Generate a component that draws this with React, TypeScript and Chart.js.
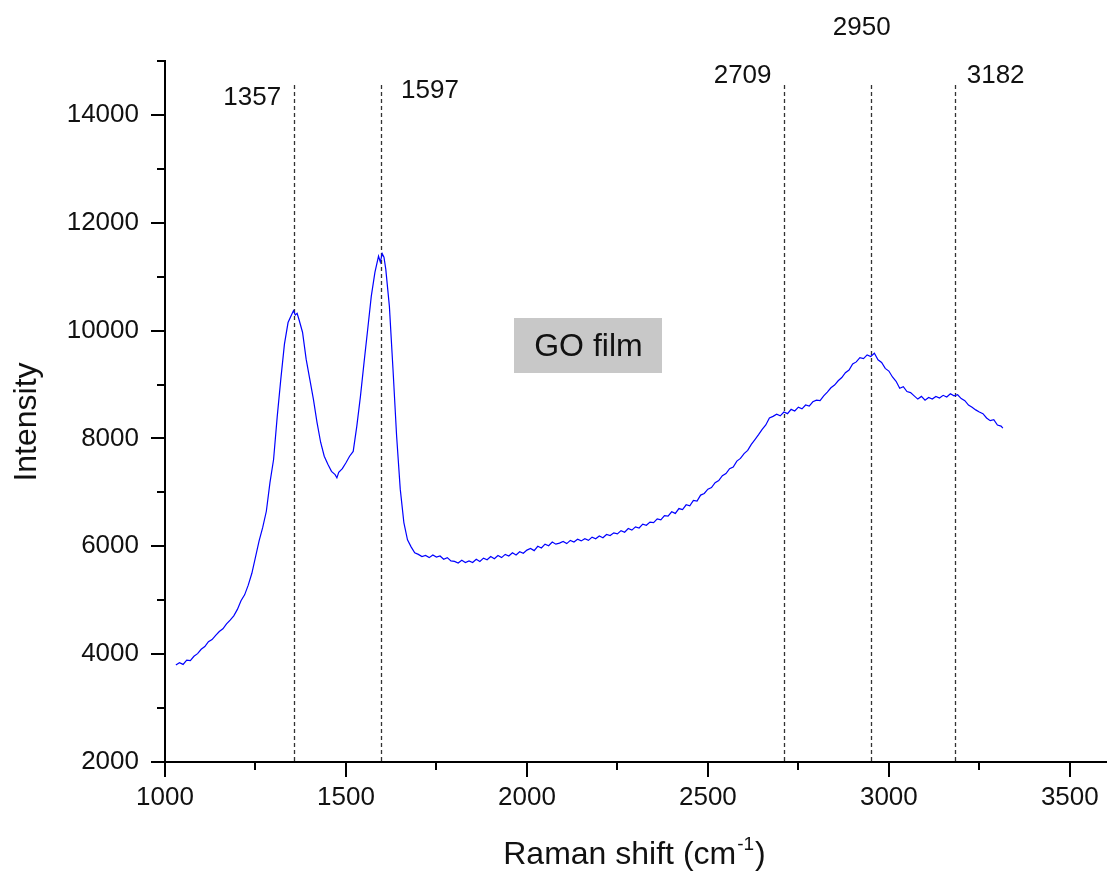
import { useEffect, useRef } from 'react';
import { Chart, registerables } from 'chart.js';

Chart.register(...registerables);

// Raman spectrum of GO film: [Raman shift (cm-1), Intensity]
const spectrum: [number, number][] = [
  [1030, 3800], [1040, 3840], [1050, 3810], [1060, 3890], [1070, 3880], [1080, 3960], [1090, 4010],
  [1100, 4090], [1110, 4140], [1120, 4230], [1130, 4270], [1140, 4350], [1150, 4420], [1160, 4470],
  [1170, 4560], [1180, 4630], [1190, 4710], [1200, 4830], [1210, 4990], [1220, 5100], [1230, 5280],
  [1240, 5500], [1250, 5800], [1260, 6100], [1270, 6350], [1280, 6650], [1290, 7180], [1300, 7610],
  [1310, 8400], [1320, 9100], [1330, 9750], [1340, 10150], [1350, 10300], [1355, 10370], [1360, 10290],
  [1365, 10320], [1370, 10210], [1380, 9970], [1390, 9470], [1400, 9100], [1410, 8730], [1420, 8300],
  [1430, 7930], [1440, 7670], [1450, 7520], [1460, 7390], [1470, 7330], [1475, 7270], [1480, 7370],
  [1490, 7440], [1500, 7550], [1510, 7670], [1520, 7760], [1530, 8230], [1540, 8780], [1550, 9410],
  [1560, 10020], [1570, 10640], [1580, 11080], [1590, 11380], [1595, 11270], [1600, 11430], [1605, 11360],
  [1610, 11140], [1620, 10450], [1630, 9280], [1640, 8040], [1650, 7060], [1660, 6440], [1670, 6120],
  [1680, 5990], [1690, 5880], [1700, 5850], [1710, 5810], [1720, 5830], [1730, 5790], [1740, 5840],
  [1750, 5800], [1760, 5820], [1770, 5760], [1780, 5790], [1790, 5730], [1800, 5720], [1810, 5690],
  [1820, 5740], [1830, 5700], [1840, 5730], [1850, 5700], [1860, 5760], [1870, 5720], [1880, 5780],
  [1890, 5750], [1900, 5810], [1910, 5770], [1920, 5830], [1930, 5790], [1940, 5850], [1950, 5820],
  [1960, 5880], [1970, 5840], [1980, 5900], [1990, 5870], [2000, 5930], [2010, 5960], [2020, 5920],
  [2030, 6000], [2040, 5970], [2050, 6040], [2060, 6010], [2070, 6080], [2080, 6040], [2090, 6060],
  [2100, 6090], [2110, 6050], [2120, 6110], [2130, 6080], [2140, 6130], [2150, 6100], [2160, 6140],
  [2170, 6110], [2180, 6170], [2190, 6140], [2200, 6190], [2210, 6160], [2220, 6220], [2230, 6200],
  [2240, 6250], [2250, 6230], [2260, 6290], [2270, 6260], [2280, 6330], [2290, 6300], [2300, 6360],
  [2310, 6340], [2320, 6410], [2330, 6390], [2340, 6450], [2350, 6440], [2360, 6510], [2370, 6490],
  [2380, 6570], [2390, 6560], [2400, 6640], [2410, 6610], [2420, 6700], [2430, 6680], [2440, 6770],
  [2450, 6750], [2460, 6850], [2470, 6840], [2480, 6950], [2490, 6980], [2500, 7060], [2510, 7090],
  [2520, 7180], [2530, 7220], [2540, 7310], [2550, 7350], [2560, 7440], [2570, 7470], [2580, 7580],
  [2590, 7630], [2600, 7720], [2610, 7780], [2620, 7890], [2630, 7980], [2640, 8070], [2650, 8170],
  [2660, 8250], [2670, 8380], [2680, 8410], [2690, 8450], [2700, 8420], [2710, 8490], [2720, 8460],
  [2730, 8540], [2740, 8510], [2750, 8580], [2760, 8550], [2770, 8620], [2780, 8600], [2790, 8680],
  [2800, 8710], [2810, 8700], [2820, 8790], [2830, 8860], [2840, 8940], [2850, 8990], [2860, 9070],
  [2870, 9130], [2880, 9220], [2890, 9270], [2900, 9380], [2910, 9420], [2920, 9500], [2930, 9480],
  [2940, 9550], [2950, 9520], [2960, 9580], [2970, 9460], [2980, 9410], [2990, 9300], [3000, 9250],
  [3010, 9140], [3020, 9060], [3030, 8930], [3040, 8960], [3050, 8870], [3060, 8850], [3070, 8790],
  [3080, 8730], [3090, 8780], [3100, 8710], [3110, 8760], [3120, 8730], [3130, 8780], [3140, 8750],
  [3150, 8800], [3160, 8770], [3170, 8830], [3180, 8790], [3190, 8810], [3200, 8740], [3210, 8700],
  [3220, 8620], [3230, 8580], [3240, 8530], [3250, 8490], [3260, 8460], [3270, 8380], [3280, 8330],
  [3290, 8350], [3300, 8250], [3310, 8230], [3315, 8190],
];

const peakPositions = [1357, 1597, 2709, 2950, 3182];
const peakLabels = ['1357', '1597', '2709', '2950', '3182'];
const peakLineTop = 14560;

const xMajorTicks = [1000, 1500, 2000, 2500, 3000, 3500];
const xMinorTicks = [1250, 1750, 2250, 2750, 3250];
const yMajorTicks = [2000, 4000, 6000, 8000, 10000, 12000, 14000];
const yMinorTicks = [3000, 5000, 7000, 9000, 11000, 13000, 15000];

const sampleName = 'GO film';
const sampleAnchor = { x: 2170, y: 9720 };

const xTitleMain = 'Raman shift (cm';
const xTitleSup = '-1';
const xTitleEnd = ')';
const yTitle = 'Intensity';

// layout / style (pixels)
const FONT = '"Liberation Sans", Arial, Helvetica, sans-serif';
const TEXT = '#111111';
const peakLabelLayout = [
  { align: 'right', dx: -13, baseline: 105 },
  { align: 'left', dx: 20, baseline: 98 },
  { align: 'right', dx: -12, baseline: 83 },
  { align: 'center', dx: -9, baseline: 35 },
  { align: 'left', dx: 12, baseline: 83 },
];

const overlayPlugin = {
  id: 'overlay',
  beforeDatasetsDraw(chart: any) {
    const { ctx, scales } = chart;
    const x = scales.x, y = scales.y;
    ctx.save();
    ctx.setLineDash([4, 3]);
    ctx.strokeStyle = '#333333';
    ctx.lineWidth = 1.3;
    const yb = y.getPixelForValue(2000);
    const yt = y.getPixelForValue(peakLineTop);
    peakPositions.forEach((p) => {
      const px = Math.round(x.getPixelForValue(p)) + 0.5;
      ctx.beginPath();
      ctx.moveTo(px, yb - 1);
      ctx.lineTo(px, yt);
      ctx.stroke();
    });
    ctx.restore();
  },
  afterDraw(chart: any) {
    const { ctx, scales, chartArea } = chart;
    const x = scales.x, y = scales.y;
    ctx.save();
    // minor ticks
    ctx.strokeStyle = '#000';
    ctx.lineWidth = 2;
    ctx.setLineDash([]);
    xMinorTicks.forEach((v) => {
      const px = Math.round(x.getPixelForValue(v));
      ctx.beginPath();
      ctx.moveTo(px, chartArea.bottom);
      ctx.lineTo(px, chartArea.bottom + 8);
      ctx.stroke();
    });
    yMinorTicks.forEach((v) => {
      const py = Math.round(y.getPixelForValue(v));
      ctx.beginPath();
      ctx.moveTo(chartArea.left, py);
      ctx.lineTo(chartArea.left - 8, py);
      ctx.stroke();
    });

    // peak labels
    ctx.fillStyle = TEXT;
    ctx.font = `26px ${FONT}`;
    ctx.textBaseline = 'alphabetic';
    peakPositions.forEach((p, i) => {
      const l = peakLabelLayout[i];
      ctx.textAlign = l.align as CanvasTextAlign;
      ctx.fillText(peakLabels[i], x.getPixelForValue(p) + l.dx, l.baseline);
    });

    // sample box
    const cx = x.getPixelForValue(sampleAnchor.x);
    const cy = y.getPixelForValue(sampleAnchor.y);
    const bw = 148, bh = 55;
    ctx.fillStyle = '#c8c8c8';
    ctx.fillRect(Math.round(cx - bw / 2), Math.round(cy - bh / 2), bw, bh);
    ctx.fillStyle = TEXT;
    ctx.font = `32px ${FONT}`;
    ctx.textAlign = 'center';
    ctx.textBaseline = 'middle';
    ctx.fillText(sampleName, cx, cy + 1);

    // x title with superscript
    ctx.textBaseline = 'alphabetic';
    ctx.textAlign = 'left';
    const mainFont = `32px ${FONT}`;
    const supFont = `19px ${FONT}`;
    ctx.font = mainFont;
    const w1 = ctx.measureText(xTitleMain).width;
    const w3 = ctx.measureText(xTitleEnd).width;
    ctx.font = supFont;
    const w2 = ctx.measureText(xTitleSup).width;
    const total = w1 + w2 + w3 + 2;
    const xCenter = (chartArea.left + chartArea.right) / 2 - 1;
    let tx = xCenter - total / 2;
    const base = 864;
    ctx.font = mainFont;
    ctx.fillText(xTitleMain, tx, base);
    tx += w1 + 1;
    ctx.font = supFont;
    ctx.fillText(xTitleSup, tx, base - 14);
    tx += w2 + 1;
    ctx.font = mainFont;
    ctx.fillText(xTitleEnd, tx, base);

    // y title
    ctx.translate(36, 422);
    ctx.rotate(-Math.PI / 2);
    ctx.textAlign = 'center';
    ctx.fillText(yTitle, 0, 0);
    ctx.restore();
  },
};

export default function App() {
  const canvasRef = useRef<HTMLCanvasElement | null>(null);

  useEffect(() => {
    if (!canvasRef.current) return;
    const chart = new Chart(canvasRef.current, {
      type: 'line',
      data: {
        datasets: [
          {
            label: sampleName,
            data: spectrum.map(([sx, sy]) => ({ x: sx, y: sy })),
            borderColor: '#0000ff',
            borderWidth: 1.2,
            pointRadius: 0,
            tension: 0,
            fill: false,
          },
        ],
      },
      options: {
        responsive: false,
        animation: false,
        events: [],
        layout: { padding: { left: 0, top: 61, right: 1, bottom: 0 } },
        plugins: {
          legend: { display: false },
          tooltip: { enabled: false },
          title: { display: false },
        },
        scales: {
          x: {
            type: 'linear',
            min: 1000,
            max: 3600,
            afterBuildTicks: (s: any) => {
              s.ticks = xMajorTicks.map((v) => ({ value: v }));
            },
            afterFit: (s: any) => {
              s.height = 110;
            },
            grid: {
              display: true,
              drawOnChartArea: false,
              drawTicks: true,
              tickLength: 15,
              color: '#000',
              lineWidth: 2,
            },
            border: { display: true, color: '#000', width: 2 },
            ticks: {
              color: TEXT,
              font: { size: 26, family: FONT },
              padding: 5,
              maxRotation: 0,
              autoSkip: false,
              callback: (v: any) => String(v),
            },
          },
          y: {
            type: 'linear',
            min: 2000,
            max: 15000,
            afterBuildTicks: (s: any) => {
              s.ticks = yMajorTicks.map((v) => ({ value: v }));
            },
            afterFit: (s: any) => {
              s.width = 165;
            },
            grid: {
              display: true,
              drawOnChartArea: false,
              drawTicks: true,
              tickLength: 14,
              color: '#000',
              lineWidth: 2,
            },
            border: { display: true, color: '#000', width: 2 },
            ticks: {
              color: TEXT,
              font: { size: 26, family: FONT },
              padding: 12,
              autoSkip: false,
              callback: (v: any) => String(v),
            },
          },
        },
      },
      plugins: [overlayPlugin],
    });
    return () => chart.destroy();
  }, []);

  return (
    <div style={{ position: 'fixed', left: 0, top: 0, width: 1107, height: 872, background: '#fff' }}>
      <canvas ref={canvasRef} width={1107} height={872} style={{ width: 1107, height: 872, display: 'block' }} />
    </div>
  );
}
